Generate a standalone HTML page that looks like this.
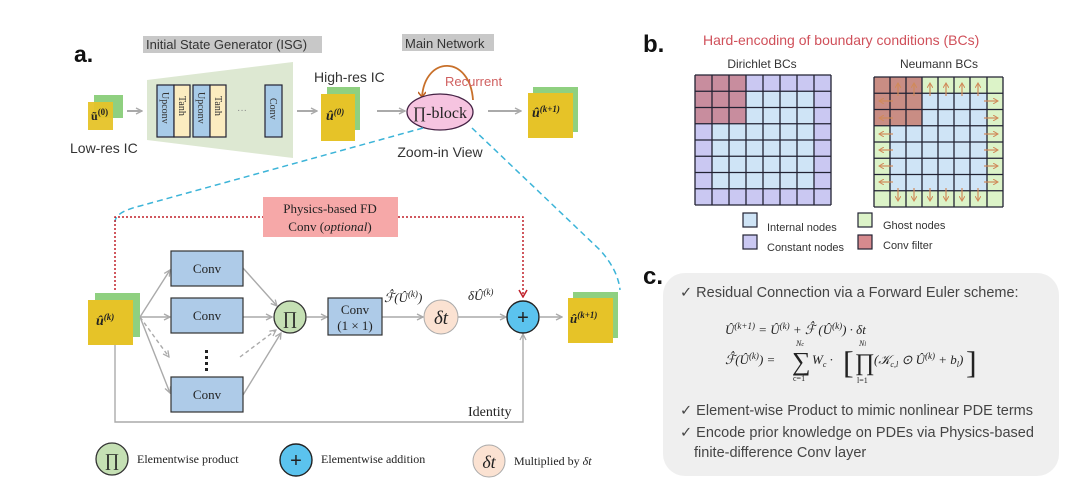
<!DOCTYPE html>
<html><head><meta charset="utf-8"><style>
html,body{margin:0;padding:0;background:#fff;width:1080px;height:485px;overflow:hidden}
svg{display:block}
.s{font-family:"Liberation Sans",sans-serif}
.r{font-family:"Liberation Serif",serif}
</style></head><body>
<svg width="1080" height="485" viewBox="0 0 1080 485" xmlns="http://www.w3.org/2000/svg">
<defs>
<marker id="ag" markerWidth="8" markerHeight="8" refX="7" refY="4" orient="auto" markerUnits="userSpaceOnUse"><path d="M1,1 L7,4 L1,7" fill="none" stroke="#aaa" stroke-width="1.3"/></marker>
<marker id="ar" markerWidth="10" markerHeight="10" refX="5" refY="9" orient="0" markerUnits="userSpaceOnUse"><path d="M1,2 L5,9 L9,2" fill="none" stroke="#c0202a" stroke-width="1.5"/></marker>
<marker id="ao" markerWidth="8" markerHeight="8" refX="4" refY="7" orient="0" markerUnits="userSpaceOnUse"><path d="M0,2 L4,7 L8,2" fill="none" stroke="#c06020" stroke-width="1.5"/></marker>
<marker id="an" markerWidth="6" markerHeight="6" refX="5" refY="3" orient="auto" markerUnits="userSpaceOnUse"><path d="M0,0 L5,3 L0,6" fill="none" stroke="#d08a5a" stroke-width="1"/></marker>
</defs>

<text x="74" y="62" class="s" font-size="23" font-weight="bold" fill="#111">a.</text>
<rect x="143" y="36" width="179" height="17" fill="#c8c8c8"/>
<text x="146" y="49" class="s" font-size="13" fill="#333">Initial State Generator (ISG)</text>
<rect x="402" y="34" width="92" height="17" fill="#c8c8c8"/>
<text x="405" y="48" class="s" font-size="13" fill="#333">Main Network</text>

<rect x="94" y="95" width="29" height="23" fill="#8fd080"/>
<rect x="88" y="102" width="25" height="28" fill="#e6c328" opacity="0.95"/>
<text x="91" y="120" class="r" font-size="12" font-weight="bold" fill="#222">ũ<tspan font-size="9" dy="-5">(0)</tspan></text>
<text x="70" y="153" class="s" font-size="14" fill="#333">Low-res IC</text>
<line x1="127" y1="111" x2="142" y2="111" stroke="#aaa" stroke-width="2" marker-end="url(#ag)"/>

<polygon points="147,80 293,62 293,158 147,140" fill="#dde8d2"/>
<g stroke="#223" stroke-width="1.2">
<rect x="157" y="85" width="17" height="52" fill="#a8cbe8"/>
<rect x="174" y="85" width="16" height="52" fill="#fbecc0"/>
<rect x="193" y="85" width="17" height="52" fill="#a8cbe8"/>
<rect x="210" y="85" width="16" height="52" fill="#fbecc0"/>
<rect x="265" y="85" width="17" height="52" fill="#a8cbe8"/>
</g>
<g class="r" font-size="10" fill="#333">
<text transform="translate(162,92) rotate(90)">Upconv</text>
<text transform="translate(179,96) rotate(90)">Tanh</text>
<text transform="translate(198,92) rotate(90)">Upconv</text>
<text transform="translate(215,96) rotate(90)">Tanh</text>
<text transform="translate(270,98) rotate(90)">Conv</text>
</g>
<text x="237" y="113" class="s" font-size="10" fill="#888">···</text>
<line x1="297" y1="111" x2="317" y2="111" stroke="#aaa" stroke-width="2" marker-end="url(#ag)"/>

<text x="314" y="82" class="s" font-size="14" fill="#333">High-res IC</text>
<rect x="327" y="87" width="33" height="43" fill="#8fd080"/>
<rect x="321" y="94" width="34" height="47" fill="#e6c328"/>
<text x="326" y="120" class="r" font-size="14" font-weight="bold" font-style="italic" fill="#222">û<tspan font-size="9" dy="-5">(0)</tspan></text>
<line x1="377" y1="111" x2="405" y2="111" stroke="#aaa" stroke-width="2" marker-end="url(#ag)"/>

<path d="M473,100 C470,55 425,55 422,97" fill="none" stroke="#c8702a" stroke-width="1.8" marker-end="url(#ao)"/>
<text x="445" y="86" class="s" font-size="13" fill="#d06060">Recurrent</text>
<ellipse cx="440" cy="112" rx="33" ry="18" fill="#f6c4e0" stroke="#442244" stroke-width="1.3"/>
<text x="440" y="118" class="r" font-size="16" text-anchor="middle" fill="#222">∏-block</text>
<text x="440" y="157" class="s" font-size="14" text-anchor="middle" fill="#333">Zoom-in View</text>
<line x1="488" y1="111" x2="521" y2="111" stroke="#aaa" stroke-width="2" marker-end="url(#ag)"/>
<rect x="533" y="87" width="45" height="45" fill="#8fd080"/>
<rect x="528" y="93" width="45" height="45" fill="#e6c328"/>
<text x="532" y="117" class="r" font-size="14" font-weight="bold" font-style="italic" fill="#222">û<tspan font-size="9" dy="-5">(k+1)</tspan></text>

<path d="M423,128 L140,206 Q115,212 115,222" fill="none" stroke="#3cb4d8" stroke-width="1.5" stroke-dasharray="6,4"/>
<path d="M472,128 L600,250 Q618,270 620,290" fill="none" stroke="#3cb4d8" stroke-width="1.5" stroke-dasharray="6,4"/>

<path d="M115,290 L115,217 L523,217 L523,297" fill="none" stroke="#c0202a" stroke-width="1.5" stroke-dasharray="2,2" marker-end="url(#ar)"/>
<rect x="263" y="197" width="135" height="40" fill="#f6a8a8"/>
<text x="330" y="213" class="r" font-size="13" text-anchor="middle" fill="#222">Physics-based FD</text>
<text x="330" y="231" class="r" font-size="13" text-anchor="middle" fill="#222">Conv (<tspan font-style="italic">optional</tspan>)</text>

<rect x="95" y="293" width="45" height="44" fill="#8fd080"/>
<rect x="88" y="300" width="45" height="45" fill="#e6c328"/>
<text x="96" y="325" class="r" font-size="14" font-weight="bold" font-style="italic" fill="#222">û<tspan font-size="9" dy="-5">(k)</tspan></text>

<g stroke="#aaa" stroke-width="1.4" fill="none">
<line x1="140" y1="317" x2="170" y2="270" marker-end="url(#ag)"/>
<line x1="140" y1="317" x2="170" y2="317" marker-end="url(#ag)"/>
<line x1="140" y1="317" x2="169" y2="357" stroke-dasharray="4,3" marker-end="url(#ag)"/>
<line x1="140" y1="317" x2="170" y2="393" marker-end="url(#ag)"/>
<line x1="243" y1="268" x2="277" y2="306" marker-end="url(#ag)"/>
<line x1="243" y1="317" x2="272" y2="317" marker-end="url(#ag)"/>
<line x1="240" y1="357" x2="276" y2="330" stroke-dasharray="4,3" marker-end="url(#ag)"/>
<line x1="243" y1="395" x2="281" y2="333" marker-end="url(#ag)"/>
<line x1="307" y1="317" x2="327" y2="317" marker-end="url(#ag)"/>
<line x1="382" y1="317" x2="423" y2="317" marker-end="url(#ag)"/>
<line x1="458" y1="317" x2="506" y2="317" marker-end="url(#ag)"/>
<line x1="540" y1="317" x2="562" y2="317" marker-end="url(#ag)"/>
<path d="M115,345 L115,422 L523,422 L523,334" marker-end="url(#ag)"/>
</g>
<g stroke="#333" stroke-width="1.2" fill="#aecbe8">
<rect x="171" y="251" width="72" height="35"/>
<rect x="171" y="298" width="72" height="35"/>
<rect x="171" y="377" width="72" height="35"/>
<rect x="328" y="298" width="54" height="37"/>
</g>
<g class="r" font-size="13" fill="#222" text-anchor="middle">
<text x="207" y="273">Conv</text>
<text x="207" y="320">Conv</text>
<text x="207" y="399">Conv</text>
<text x="355" y="314">Conv</text>
<text x="355" y="330">(1 × 1)</text>
</g>
<g fill="#222"><rect x="205" y="350" width="3" height="3"/><rect x="205" y="356" width="3" height="3"/><rect x="205" y="362" width="3" height="3"/><rect x="205" y="368" width="3" height="3"/></g>
<circle cx="290" cy="317" r="16" fill="#c5e0b4" stroke="#333" stroke-width="1.3"/>
<text x="290" y="324" class="r" font-size="18" text-anchor="middle" fill="#222">∏</text>
<text x="384" y="302" class="r" font-size="13" font-style="italic" fill="#222">ℱ̂(Û<tspan font-size="9" dy="-5">(k)</tspan><tspan dy="5">)</tspan></text>
<circle cx="441" cy="317" r="17" fill="#fbe2d2" stroke="#aaa" stroke-width="1"/>
<text x="441" y="324" class="r" font-size="19" font-style="italic" text-anchor="middle" fill="#222">δt</text>
<text x="468" y="300" class="r" font-size="13" font-style="italic" fill="#222">δÛ<tspan font-size="9" dy="-5">(k)</tspan></text>
<circle cx="523" cy="317" r="16" fill="#5bc3ee" stroke="#222" stroke-width="1.4"/>
<text x="523" y="324" class="s" font-size="20" text-anchor="middle" fill="#222">+</text>
<rect x="573" y="292" width="45" height="46" fill="#8fd080"/>
<rect x="568" y="298" width="45" height="45" fill="#e6c328"/>
<text x="570" y="323" class="r" font-size="13" font-weight="bold" font-style="italic" fill="#222">û<tspan font-size="9" dy="-5">(k+1)</tspan></text>
<text x="468" y="416" class="r" font-size="14" fill="#222">Identity</text>

<circle cx="112" cy="459" r="16" fill="#c5e0b4" stroke="#333" stroke-width="1.3"/>
<text x="112" y="466" class="r" font-size="18" text-anchor="middle" fill="#222">∏</text>
<text x="137" y="463" class="r" font-size="12" fill="#222">Elementwise product</text>
<circle cx="296" cy="460" r="16" fill="#5bc3ee" stroke="#222" stroke-width="1.4"/>
<text x="296" y="467" class="s" font-size="20" text-anchor="middle" fill="#222">+</text>
<text x="321" y="463" class="r" font-size="12" fill="#222">Elementwise addition</text>
<circle cx="489" cy="461" r="16" fill="#fbe2d2" stroke="#aaa" stroke-width="1"/>
<text x="489" y="468" class="r" font-size="18" font-style="italic" text-anchor="middle" fill="#222">δt</text>
<text x="514" y="465" class="r" font-size="12" fill="#222">Multiplied by <tspan font-style="italic">δt</tspan></text>

<text x="643" y="52" class="s" font-size="24" font-weight="bold" fill="#111">b.</text>
<text x="703" y="45" class="s" font-size="14" fill="#d0505a">Hard-encoding of boundary conditions (BCs)</text>
<text x="762" y="68" class="s" font-size="12" text-anchor="middle" fill="#333">Dirichlet BCs</text>
<text x="939" y="68" class="s" font-size="12" text-anchor="middle" fill="#333">Neumann BCs</text>

<rect x="695" y="75" width="136" height="130" fill="#cac8f2"/>
<rect x="712" y="91.25" width="102" height="97.5" fill="#cfe4f6"/>
<rect x="695" y="75" width="51" height="48.75" fill="#c88d9e"/>
<path d="M695,75V205M712,75V205M729,75V205M746,75V205M763,75V205M780,75V205M797,75V205M814,75V205M831,75V205M695,75H831M695,91.25H831M695,107.5H831M695,123.75H831M695,140H831M695,156.25H831M695,172.5H831M695,188.75H831M695,205H831" stroke="#223" stroke-width="1.3" fill="none"/>

<rect x="874" y="77" width="129" height="130" fill="#dcf3c8"/>
<rect x="890" y="93.25" width="97" height="97.5" fill="#cfe4f6"/>
<rect x="874" y="77" width="48" height="48.75" fill="#c98d84"/>
<path d="M874,77V207M890,77V207M906,77V207M922,77V207M938,77V207M954,77V207M970,77V207M987,77V207M1003,77V207M874,77H1003M874,93.25H1003M874,109.5H1003M874,125.75H1003M874,142H1003M874,158.25H1003M874,174.5H1003M874,190.75H1003M874,207H1003" stroke="#223" stroke-width="1.3" fill="none"/>
<g stroke="#d08a5a" stroke-width="1.2" marker-end="url(#an)">
<line x1="898" y1="96" x2="898" y2="83"/><line x1="914" y1="96" x2="914" y2="83"/><line x1="930" y1="96" x2="930" y2="83"/><line x1="946" y1="96" x2="946" y2="83"/><line x1="962" y1="96" x2="962" y2="83"/><line x1="978" y1="96" x2="978" y2="83"/>
<line x1="898" y1="188" x2="898" y2="201"/><line x1="914" y1="188" x2="914" y2="201"/><line x1="930" y1="188" x2="930" y2="201"/><line x1="946" y1="188" x2="946" y2="201"/><line x1="962" y1="188" x2="962" y2="201"/><line x1="978" y1="188" x2="978" y2="201"/>
<line x1="893" y1="101" x2="879" y2="101"/><line x1="893" y1="118" x2="879" y2="118"/><line x1="893" y1="134" x2="879" y2="134"/><line x1="893" y1="150" x2="879" y2="150"/><line x1="893" y1="166" x2="879" y2="166"/><line x1="893" y1="182" x2="879" y2="182"/>
<line x1="984" y1="101" x2="998" y2="101"/><line x1="984" y1="118" x2="998" y2="118"/><line x1="984" y1="134" x2="998" y2="134"/><line x1="984" y1="150" x2="998" y2="150"/><line x1="984" y1="166" x2="998" y2="166"/><line x1="984" y1="182" x2="998" y2="182"/>
</g>

<g stroke="#223" stroke-width="1.2">
<rect x="743" y="213" width="14" height="14" fill="#cfe4f6"/>
<rect x="743" y="235" width="14" height="14" fill="#cac8f2"/>
<rect x="858" y="213" width="14" height="14" fill="#dcf3c8"/>
<rect x="858" y="235" width="14" height="14" fill="#d68a8e"/>
</g>
<g class="s" font-size="11" fill="#333">
<text x="767" y="231">Internal nodes</text>
<text x="767" y="251">Constant nodes</text>
<text x="883" y="229">Ghost nodes</text>
<text x="883" y="249">Conv filter</text>
</g>

<rect x="663" y="273" width="396" height="203" rx="22" fill="#efefef"/>
<text x="643" y="284" class="s" font-size="24" font-weight="bold" fill="#111">c.</text>
<g class="s" font-size="14.5" fill="#444">
<text x="680" y="297">✓ Residual Connection via a Forward Euler scheme:</text>
<text x="680" y="415">✓ Element-wise Product to mimic nonlinear PDE terms</text>
<text x="680" y="437">✓ Encode prior knowledge on PDEs via Physics-based</text>
<text x="694" y="457">finite-difference Conv layer</text>
</g>
<g class="r" font-size="13" fill="#222" font-style="italic">
<text x="725" y="334">Û<tspan font-size="9" dy="-5">(k+1)</tspan><tspan dy="5"> = Û</tspan><tspan font-size="9" dy="-5">(k)</tspan><tspan dy="5"> + ℱ̂ (Û</tspan><tspan font-size="9" dy="-5">(k)</tspan><tspan dy="5">) · δt</tspan></text>
<text x="725" y="364">ℱ̂(Û<tspan font-size="9" dy="-5">(k)</tspan><tspan dy="5">) = </tspan></text>
<text x="792" y="370" font-size="26" font-style="normal">∑</text>
<text x="796" y="346" font-size="8">N<tspan font-size="6">c</tspan></text>
<text x="793" y="381" font-size="8" font-style="normal">c=1</text>
<text x="812" y="364">W<tspan font-size="8" dy="3">c</tspan><tspan dy="-3"> · </tspan></text>
<text x="843" y="373" font-size="32" font-style="normal">[</text>
<text x="855" y="370" font-size="24" font-style="normal">∏</text>
<text x="859" y="346" font-size="8">N<tspan font-size="6">l</tspan></text>
<text x="857" y="383" font-size="8" font-style="normal">l=1</text>
<text x="874" y="364">(𝒦<tspan font-size="8" dy="3">c,l</tspan><tspan dy="-3"> ⊙ Û</tspan><tspan font-size="9" dy="-5">(k)</tspan><tspan dy="5"> + b</tspan><tspan font-size="8" dy="3">l</tspan><tspan dy="-3">)</tspan></text>
<text x="966" y="373" font-size="32" font-style="normal">]</text>
</g>
</svg>
</body></html>
